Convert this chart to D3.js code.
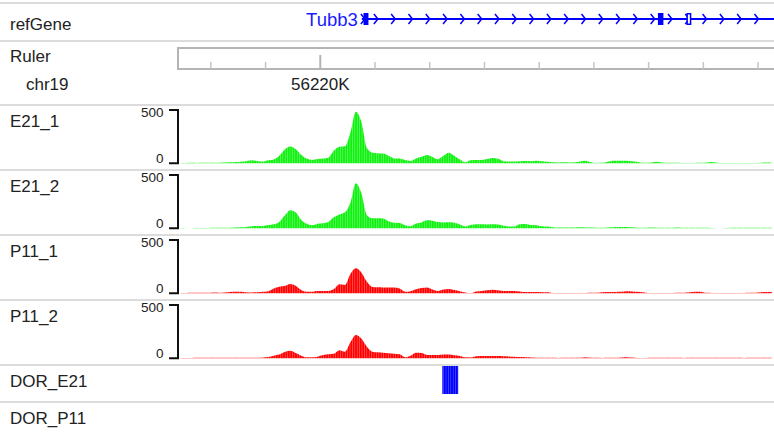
<!DOCTYPE html>
<html>
<head>
<meta charset="utf-8">
<script src="https://cdn.jsdelivr.net/npm/d3@7"></script>
<style>
  html, body { margin: 0; padding: 0; background: #fff; }
  svg { display: block; }
  text { font-family: "Liberation Sans", Arial, sans-serif; }
</style>
</head>
<body>
<script>
// ---------------- DATA ----------------
const chromName = "chr19";
const viewStart = 56217400;   // bp
const viewEnd = 56228300;     // bp
const binSize = 100;          // bp per signal bin
const rulerMajorTicks = [56220000];
const rulerMajorLabels = ["56220K"];
const rulerMinorTicks = [56218000, 56219000, 56221000, 56222000, 56223000, 56224000, 56225000, 56226000, 56227000, 56228000];

const geneName = "Tubb3";
const geneStart = 56220760;
const geneEnd = 56236000;
const geneThickBlocks = [[56220790, 56220880], [56226170, 56226270]];
const geneOpenBlocks = [[56226690, 56226780]];

const trackNames = ["E21_1", "E21_2", "P11_1", "P11_2"];
const trackColors = ["green", "green", "red", "red"];
const axisTicks = [0, 500];

const E21_1 = [3,3,4,3,4,5,5,6,8,9,12,15,20,28,22,16,28,36,70,130,158,135,80,45,32,40,44,55,120,155,160,290,484,390,145,100,95,92,70,45,44,30,22,45,62,78,60,38,70,100,70,35,10,28,30,32,40,50,42,20,18,18,20,22,20,25,20,14,9,8,9,8,10,18,25,10,3,4,15,25,25,24,22,18,8,5,8,14,8,5,5,6,3,3,3,4,8,13,6,3,2,2,2,3,2,2,4,8,5];
const E21_2 = [2,1,1,2,2,3,4,4,5,6,8,10,13,20,22,22,30,38,60,120,170,150,80,42,28,42,48,60,105,130,150,240,422,330,125,95,95,92,65,52,50,28,20,45,55,75,72,58,55,56,52,35,18,30,37,37,36,37,35,25,16,18,38,40,30,28,20,16,10,8,7,8,8,9,8,7,6,6,8,10,12,12,10,8,6,6,8,6,6,5,6,8,5,4,4,4,4,2,1,1,2,4,4,5,5,5,4,6,6];
const P11_1 = [3,3,4,4,5,5,8,6,8,12,15,14,10,8,10,14,20,45,62,68,87,70,30,15,15,22,22,22,40,84,78,180,234,195,110,60,56,55,55,54,45,15,20,38,50,55,35,22,35,40,30,20,8,3,18,22,28,34,28,22,22,22,18,12,12,12,10,10,3,3,3,3,3,3,3,4,4,10,12,12,15,18,19,14,12,6,3,3,3,3,3,4,5,10,15,14,4,3,3,3,3,3,3,3,5,6,10,12,12];
const P11_2 = [3,3,3,4,4,4,4,5,5,6,6,6,6,6,6,8,12,25,35,60,70,50,25,10,9,15,30,37,42,75,62,150,219,185,110,62,56,52,48,42,37,10,25,53,50,32,30,30,35,35,28,22,9,8,20,22,22,22,22,20,18,15,12,10,8,6,5,5,4,3,4,4,5,6,9,6,4,3,4,5,6,9,7,5,3,3,4,5,5,5,4,4,3,4,4,5,5,4,4,5,5,4,4,3,4,5,6,6,6];
const signalSeries = [E21_1, E21_2, P11_1, P11_2];

const dorNames = ["DOR_E21", "DOR_P11"];
const dorE21Regions = [[56222230, 56222520]];
const dorP11Regions = [];
const dorRegions = [dorE21Regions, dorP11Regions];

// ---------------- LAYOUT ----------------
const W = 774, H = 434;
const svg = d3.select("body").append("svg").attr("width", W).attr("height", H);

const defs = svg.append("defs");
function stripe(id, base, light) {
  const p = defs.append("pattern").attr("id", id).attr("patternUnits", "userSpaceOnUse")
    .attr("width", 2.4).attr("height", 10);
  p.append("rect").attr("width", 2.4).attr("height", 10).attr("fill", light);
  p.append("rect").attr("width", 1.7).attr("height", 10).attr("fill", base);
}
stripe("pg", "#11ee11", "#66ff66");
stripe("pr", "#ff0000", "#ff6060");
stripe("pb", "#0000ff", "#5050ff");
const fills = { green: "url(#pg)", red: "url(#pr)" };

const x = d3.scaleLinear().domain([viewStart, viewEnd]).range([178, 774.5]);

const separators = [3, 41, 105, 170, 235, 300, 365, 402];
svg.selectAll("line.sep").data(separators).join("line")
  .attr("class", "sep").attr("x1", 0).attr("x2", W)
  .attr("y1", d => d).attr("y2", d => d)
  .attr("stroke", "#dcdcdc").attr("stroke-width", 2);

const labelFont = 17;
function label(txt, lx, ly, opts = {}) {
  return svg.append("text").attr("x", lx).attr("y", ly)
    .attr("font-size", opts.size || labelFont).attr("fill", opts.fill || "#222")
    .attr("text-anchor", opts.anchor || "start").text(txt);
}

// refGene track
label("refGene", 10, 29.5);
const geneY = 19;
svg.append("line").attr("x1", x(geneStart)).attr("x2", Math.min(W, x(geneEnd)))
  .attr("y1", geneY).attr("y2", geneY).attr("stroke", "#0000ff").attr("stroke-width", 2);
// strand chevrons
const chevStep = 17.3;
const chevXs = d3.range(x(geneStart) + 16, W, chevStep);
svg.selectAll("path.chev").data(chevXs).join("path")
  .attr("class", "chev")
  .attr("d", d => `M${d - 4},${geneY - 5} L${d},${geneY} L${d - 4},${geneY + 5}`)
  .attr("fill", "none").attr("stroke", "#0000ff").attr("stroke-width", 1.5);
svg.append("path").attr("d", `M${x(geneStart) - 1},${geneY - 5} L${x(geneStart) + 3},${geneY} L${x(geneStart) - 1},${geneY + 5}`)
  .attr("fill", "none").attr("stroke", "#0000ff").attr("stroke-width", 1.5);
svg.selectAll("rect.exon").data(geneThickBlocks).join("rect")
  .attr("class", "exon").attr("x", d => x(d[0])).attr("width", d => x(d[1]) - x(d[0]))
  .attr("y", geneY - 6).attr("height", 12).attr("fill", "#0000ff");
svg.selectAll("rect.exonOpen").data(geneOpenBlocks).join("rect")
  .attr("class", "exonOpen").attr("x", d => x(d[0]) + 0.75).attr("width", d => x(d[1]) - x(d[0]) - 1.5)
  .attr("y", geneY - 5.25).attr("height", 10.5).attr("fill", "#fff")
  .attr("stroke", "#0000ff").attr("stroke-width", 1.5);
label(geneName, x(geneStart) - 4, 25.5, { anchor: "end", fill: "#1a1aff", size: 18.5 });

// Ruler track
label("Ruler", 10, 61.5);
label(chromName, 26, 89.5);
const rulerTop = 48, rulerBottom = 69;
svg.append("rect").attr("x", 178).attr("y", rulerTop).attr("width", W).attr("height", rulerBottom - rulerTop)
  .attr("fill", "none").attr("stroke", "#b4b4b4").attr("stroke-width", 2);
svg.selectAll("line.minor").data(rulerMinorTicks).join("line")
  .attr("class", "minor").attr("x1", d => x(d)).attr("x2", d => x(d))
  .attr("y1", 62).attr("y2", rulerBottom).attr("stroke", "#c4c4c4").attr("stroke-width", 1.5);
svg.selectAll("line.major").data(rulerMajorTicks).join("line")
  .attr("class", "major").attr("x1", d => x(d)).attr("x2", d => x(d))
  .attr("y1", 55).attr("y2", rulerBottom).attr("stroke", "#b4b4b4").attr("stroke-width", 2);
rulerMajorTicks.forEach((t, i) => label(rulerMajorLabels[i], x(t), 89.5, { anchor: "middle" }));

// signal tracks
const trackTops = [105, 170, 235, 300];
trackNames.forEach((name, ti) => {
  const top = trackTops[ti];
  label(name, 10, top + 22);
  const y = d3.scaleLinear().domain([0, 500]).range([top + 58.3, top + 5]);
  const data = signalSeries[ti].map((v, i) => ({ pos: viewStart + binSize * (i + 0.5), v }));
  const area = d3.area().x(d => x(d.pos)).y0(y(0)).y1(d => y(d.v)).curve(d3.curveMonotoneX);
  svg.append("path").datum(data).attr("d", area).attr("fill", fills[trackColors[ti]]);
  // bracket axis
  const ax = 178;
  svg.append("path")
    .attr("d", `M${ax - 9},${y(500)} H${ax} V${y(0)} H${ax - 9}`)
    .attr("fill", "none").attr("stroke", "#111").attr("stroke-width", 2);
  svg.append("text").attr("x", 163.5).attr("y", y(500) + 6.5).attr("text-anchor", "end")
    .attr("font-size", 13.5).attr("fill", "#222").text(axisTicks[1]);
  svg.append("text").attr("x", 163.5).attr("y", y(0) - 0.5).attr("text-anchor", "end")
    .attr("font-size", 13.5).attr("fill", "#222").text(axisTicks[0]);
});

// DOR tracks
const dorTops = [365, 402];
dorNames.forEach((name, di) => {
  const top = dorTops[di];
  label(name, 10, top + 22);
  svg.selectAll(null).data(dorRegions[di]).join("rect")
    .attr("x", d => x(d[0])).attr("width", d => x(d[1]) - x(d[0]))
    .attr("y", top + 1).attr("height", 28).attr("fill", "url(#pb)");
});
</script>
</body>
</html>
